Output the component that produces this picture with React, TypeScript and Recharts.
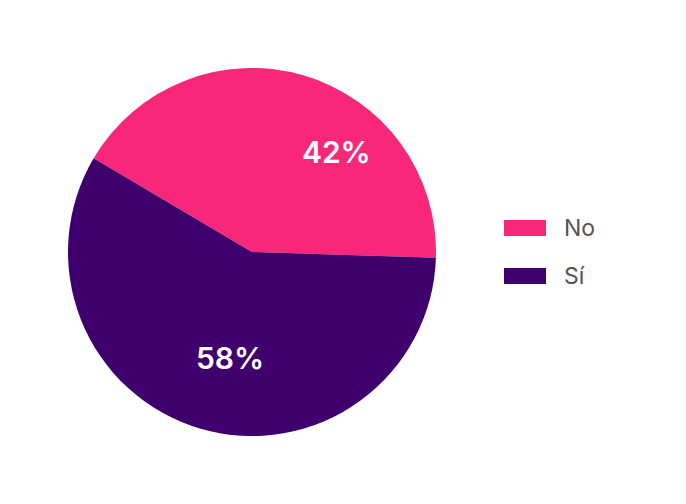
import { PieChart, Pie, Cell, Legend } from 'recharts'

const categories = ['No', 'Sí']
const values = [42, 58]
const COLORS = ['#f8277a', '#3f006d']

const data = categories.map((name, i) => ({ name, value: values[i] }))

// nudges so the labels land where the reference puts them
const LABEL_ANGLE_SHIFT = [-24, 4.5]
const LABEL_RADIUS = [0.71, 0.59]
const RAD = Math.PI / 180

function renderLabel(props: any) {
  const { cx, cy, midAngle, outerRadius, percent, index } = props
  const a = (midAngle + LABEL_ANGLE_SHIFT[index]) * RAD
  const r = outerRadius * LABEL_RADIUS[index]
  const x = cx + r * Math.cos(a)
  const y = cy - r * Math.sin(a)
  return (
    <text
      x={x}
      y={y}
      fill="#ffffff"
      textAnchor="middle"
      dominantBaseline="central"
      style={{ fontFamily: 'Inter, sans-serif', fontSize: 30, fontWeight: 600 }}
    >
      {`${Math.round(percent * 100)}%`}
    </text>
  )
}

function LegendBox() {
  return (
    <div style={{ fontFamily: 'Inter, sans-serif' }}>
      {data.map((d, i) => (
        <div key={d.name} style={{ display: 'flex', alignItems: 'center', height: 48 }}>
          <div style={{ width: 42, height: 16, background: COLORS[i], marginRight: 18 }} />
          <span style={{ fontSize: 23, color: '#555555' }}>{d.name}</span>
        </div>
      ))}
    </div>
  )
}

export default function App() {
  return (
    <div style={{ position: 'absolute', left: 0, top: 0, width: 686, height: 504, background: '#fff' }}>
      <PieChart width={686} height={504} margin={{ top: 0, right: 0, bottom: 0, left: 0 }}>
        <Pie
          data={data}
          dataKey="value"
          nameKey="name"
          cx={252}
          cy={252}
          outerRadius={184}
          startAngle={149.4}
          endAngle={-210.6}
          stroke="none"
          label={renderLabel}
          labelLine={false}
          isAnimationActive={false}
        >
          {data.map((_, i) => <Cell key={i} fill={COLORS[i]} />)}
        </Pie>
        <Legend
          content={<LegendBox />}
          wrapperStyle={{ left: 504, top: 204, width: 160 }}
        />
      </PieChart>
    </div>
  )
}
